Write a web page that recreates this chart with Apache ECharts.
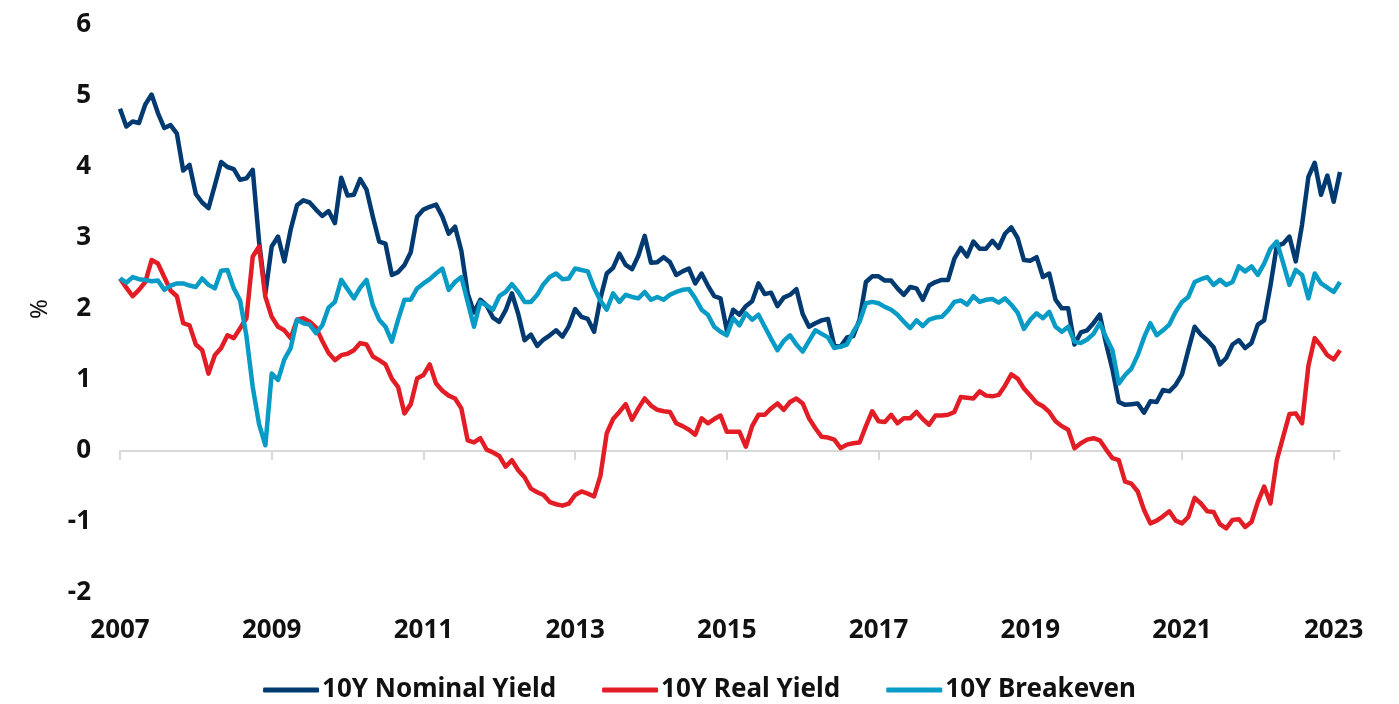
<!DOCTYPE html>
<html>
<head>
<meta charset="utf-8">
<script src="https://cdn.jsdelivr.net/npm/echarts@6/dist/echarts.min.js"></script>
<style>
  body { margin: 0; background: #fff; }
  #main { width: 1399px; height: 704px; }
</style>
</head>
<body>
<div id="main"></div>
<script>
// monthly, Jan 2007 .. Feb 2023 (month-end, %)
var nominalYield = [
  4.82, 4.57, 4.64, 4.62, 4.88, 5.02, 4.76, 4.55, 4.59, 4.47, 3.95, 4.03,
  3.62, 3.50, 3.42, 3.74, 4.07, 4.00, 3.97, 3.82, 3.84, 3.96, 2.95, 2.22,
  2.88, 3.02, 2.67, 3.12, 3.46, 3.53, 3.50, 3.40, 3.31, 3.38, 3.21, 3.85,
  3.60, 3.61, 3.83, 3.68, 3.30, 2.95, 2.92, 2.48, 2.52, 2.62, 2.80, 3.30,
  3.40, 3.44, 3.47, 3.30, 3.06, 3.16, 2.82, 2.22, 1.95, 2.13, 2.05, 1.88,
  1.82, 1.98, 2.22, 1.93, 1.56, 1.64, 1.48, 1.57, 1.63, 1.70, 1.61, 1.76,
  2.00, 1.89, 1.86, 1.68, 2.15, 2.50, 2.58, 2.78, 2.62, 2.56, 2.75, 3.03,
  2.65, 2.66, 2.73, 2.66, 2.48, 2.53, 2.57, 2.36, 2.50, 2.33, 2.18, 2.15,
  1.70, 1.99, 1.92, 2.04, 2.11, 2.36, 2.21, 2.23, 2.04, 2.16, 2.20, 2.28,
  1.93, 1.75, 1.80, 1.84, 1.86, 1.48, 1.47, 1.60, 1.62, 1.85, 2.38, 2.46,
  2.46, 2.40, 2.40, 2.29, 2.20, 2.31, 2.29, 2.13, 2.33, 2.38, 2.41, 2.41,
  2.71, 2.86, 2.74, 2.95, 2.85, 2.85, 2.96, 2.86, 3.06, 3.15, 3.00, 2.69,
  2.68, 2.73, 2.45, 2.50, 2.13, 2.01, 2.01, 1.50, 1.67, 1.70, 1.80, 1.92,
  1.51, 1.15, 0.69, 0.65, 0.66, 0.67, 0.54, 0.70, 0.69, 0.86, 0.84, 0.93,
  1.08, 1.42, 1.75, 1.64, 1.56, 1.46, 1.22, 1.31, 1.50, 1.56, 1.45, 1.52,
  1.78, 1.84, 2.33, 2.89, 2.92, 3.02, 2.67, 3.19, 3.86, 4.06, 3.61, 3.88,
  3.51, 3.93
];
var realYield = [
  2.43, 2.30, 2.18, 2.27, 2.38, 2.69, 2.64, 2.45, 2.26, 2.18, 1.80, 1.77,
  1.50, 1.42, 1.09, 1.35, 1.45, 1.63, 1.59, 1.73, 1.87, 2.74, 2.88, 2.17,
  1.89, 1.75, 1.70, 1.59, 1.85, 1.87, 1.82, 1.74, 1.55, 1.38, 1.28, 1.35,
  1.37, 1.42, 1.52, 1.50, 1.33, 1.28, 1.22, 1.02, 0.90, 0.53, 0.66, 1.02,
  1.07, 1.22, 0.95, 0.85, 0.78, 0.74, 0.60, 0.15, 0.12, 0.18, 0.02, -0.02,
  -0.07, -0.22, -0.13, -0.27, -0.37, -0.53, -0.58, -0.62, -0.72, -0.75, -0.77, -0.74,
  -0.62, -0.57, -0.60, -0.64, -0.35, 0.25, 0.45, 0.55, 0.66, 0.44, 0.60, 0.74,
  0.64, 0.58, 0.56, 0.55, 0.39, 0.35, 0.30, 0.23, 0.46, 0.39, 0.45, 0.50,
  0.27, 0.27, 0.27, 0.06, 0.35, 0.51, 0.51, 0.60, 0.67, 0.58, 0.69, 0.74,
  0.67, 0.46, 0.32, 0.20, 0.19, 0.16, 0.04, 0.09, 0.11, 0.12, 0.35, 0.56,
  0.42, 0.41, 0.51, 0.39, 0.46, 0.46, 0.55, 0.45, 0.37, 0.50, 0.50, 0.51,
  0.55, 0.76, 0.75, 0.74, 0.84, 0.78, 0.77, 0.79, 0.92, 1.08, 1.02, 0.88,
  0.78, 0.68, 0.63, 0.55, 0.42, 0.35, 0.30, 0.04, 0.11, 0.16, 0.18, 0.15,
  0.02, -0.10, -0.13, -0.43, -0.46, -0.57, -0.83, -1.02, -0.98, -0.92, -0.85, -0.98,
  -1.02, -0.93, -0.66, -0.74, -0.85, -0.86, -1.03, -1.09, -0.97, -0.96, -1.07, -1.00,
  -0.72, -0.50, -0.74, -0.13, 0.20, 0.52, 0.53, 0.39, 1.20, 1.59, 1.48, 1.35,
  1.29, 1.42
];
var breakeven = [
  2.43, 2.37, 2.45, 2.42, 2.41, 2.39, 2.40, 2.27, 2.33, 2.36, 2.36, 2.33,
  2.31, 2.43, 2.34, 2.29, 2.54, 2.55, 2.29, 2.12, 1.62, 0.90, 0.38, 0.08,
  1.09, 1.00, 1.29, 1.45, 1.85, 1.80, 1.78, 1.66, 1.77, 2.02, 2.10, 2.41,
  2.28, 2.15, 2.30, 2.41, 2.05, 1.85, 1.75, 1.54, 1.85, 2.13, 2.13, 2.29,
  2.36, 2.42, 2.50, 2.57, 2.27, 2.38, 2.45, 2.10, 1.75, 2.10, 2.05, 1.99,
  2.18, 2.24, 2.35, 2.24, 2.10, 2.10, 2.20, 2.35, 2.45, 2.50, 2.42, 2.43,
  2.57, 2.55, 2.53, 2.30, 2.12, 1.99, 2.22, 2.10, 2.20, 2.17, 2.15, 2.24,
  2.13, 2.17, 2.13, 2.20, 2.24, 2.27, 2.28, 2.15, 1.99, 1.92, 1.75, 1.68,
  1.63, 1.87, 1.77, 1.94, 1.85, 1.92, 1.75, 1.58, 1.42, 1.55, 1.63, 1.50,
  1.40, 1.55, 1.70, 1.65, 1.60, 1.45, 1.47, 1.50, 1.68, 1.82, 2.08, 2.10,
  2.08, 2.03, 1.99, 1.92, 1.82, 1.73, 1.84, 1.76, 1.85, 1.88, 1.89, 1.98,
  2.10, 2.12, 2.06, 2.18, 2.10, 2.13, 2.14, 2.09, 2.15, 2.06, 1.95, 1.72,
  1.85, 1.94, 1.87, 1.96, 1.75, 1.68, 1.75, 1.54, 1.52, 1.57, 1.65, 1.80,
  1.60, 1.42, 0.95, 1.07, 1.16, 1.35, 1.60, 1.80, 1.63, 1.70, 1.78, 1.96,
  2.10, 2.17, 2.38, 2.42, 2.45, 2.34, 2.41, 2.34, 2.38, 2.60, 2.53, 2.60,
  2.48, 2.64, 2.85, 2.95, 2.65, 2.34, 2.55, 2.48, 2.15, 2.50, 2.36, 2.30,
  2.24, 2.38
];

// month labels
var months = [];
for (var y = 2007; y <= 2023; y++) {
  for (var m = 1; m <= 12; m++) {
    if (months.length < nominalYield.length) {
      months.push(y + '-' + (m < 10 ? '0' + m : m));
    }
  }
}

var font = 'Noto Sans';
var everyTwoYears = function (index) { return index % 24 === 0; };

var chartDom = document.getElementById('main');
var myChart = echarts.init(chartDom, null, { renderer: 'canvas' });

var option = {
  animation: false,
  backgroundColor: '#fff',
  grid: { left: 120, right: 59, top: 25, bottom: 111 },
  legend: {
    top: 672,
    left: 'center',
    icon: 'roundRect',
    itemWidth: 56,
    itemHeight: 5,
    itemGap: 46,
    textStyle: { fontFamily: font, fontSize: 26, fontWeight: 'bold', color: '#111', padding: [0, 0, 0, -2] },
    data: ['10Y Nominal Yield', '10Y Real Yield', '10Y Breakeven']
  },
  xAxis: [
    {
      // zero line with ticks
      type: 'category',
      boundaryGap: false,
      data: months,
      position: 'bottom',
      axisLine: { onZero: true, lineStyle: { color: '#d9d9d9', width: 2 } },
      axisTick: { show: true, interval: everyTwoYears, length: 9, lineStyle: { color: '#d9d9d9', width: 2 } },
      axisLabel: { show: false },
      splitLine: { show: false }
    },
    {
      // year labels at the bottom
      type: 'category',
      boundaryGap: false,
      data: months,
      position: 'bottom',
      axisLine: { show: false, onZero: false },
      axisTick: { show: false },
      axisLabel: {
        interval: everyTwoYears,
        margin: 25,
        fontFamily: font,
        fontSize: 26,
        fontWeight: 'bold',
        color: '#111',
        formatter: function (v) { return v.slice(0, 4); }
      },
      splitLine: { show: false }
    }
  ],
  yAxis: {
    type: 'value',
    min: -2,
    max: 6,
    interval: 1,
    name: '%',
    nameLocation: 'middle',
    nameRotate: 90,
    nameGap: 68,
    nameTextStyle: { fontFamily: font, fontSize: 24, color: '#111' },
    axisLine: { show: false },
    axisTick: { show: false },
    splitLine: { show: false },
    axisLabel: { margin: 29, fontFamily: font, fontSize: 26, fontWeight: 'bold', color: '#111' }
  },
  series: [
    {
      name: '10Y Nominal Yield',
      type: 'line',
      data: nominalYield,
      symbol: 'none',
      color: '#003a70',
      lineStyle: { width: 4.5, color: '#003a70', join: 'round' }
    },
    {
      name: '10Y Real Yield',
      type: 'line',
      data: realYield,
      symbol: 'none',
      color: '#e31d25',
      lineStyle: { width: 4.5, color: '#e31d25', join: 'round' }
    },
    {
      name: '10Y Breakeven',
      type: 'line',
      data: breakeven,
      symbol: 'none',
      color: '#079bc5',
      lineStyle: { width: 4.5, color: '#079bc5', join: 'round' }
    }
  ]
};

myChart.setOption(option);
</script>
</body>
</html>
